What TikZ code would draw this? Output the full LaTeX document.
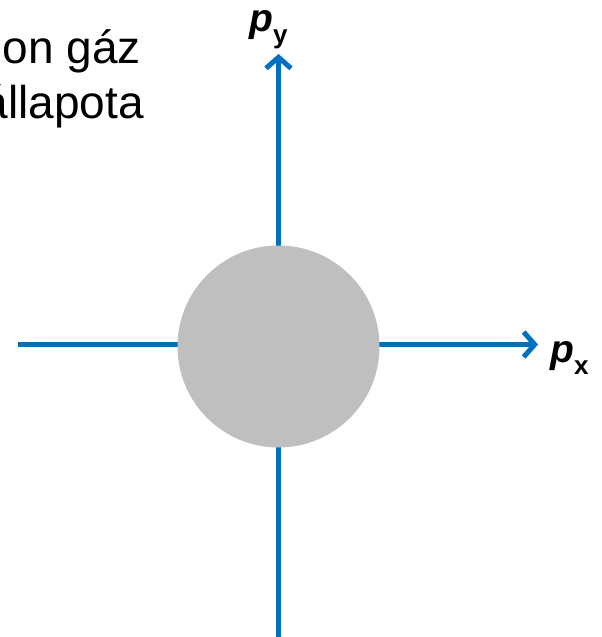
\documentclass[tikz,border=0pt]{standalone}
\usepackage{fontspec}
\setmainfont{Liberation Sans}
\usetikzlibrary{arrows.meta}
\definecolor{axisblue}{HTML}{0070C0}
\definecolor{ballgray}{HTML}{BFBFBF}
\tikzset{
  axis/.style={draw=axisblue, line width=5pt},
  axisarrow/.style={axis, -{Straight Barb[length=11pt,width=25pt,line width=5pt]}},
  ball/.style={circle, fill=ballgray, minimum size=202pt, inner sep=0pt},
  bigtext/.style={inner sep=0pt, font=\fontsize{46}{46}\selectfont},
  lbl/.style={inner sep=0pt, font=\fontsize{39}{39}\selectfont\bfseries\itshape},
}
\newcommand{\subx}[1]{{\upshape\fontsize{26}{26}\selectfont\raisebox{-12pt}{#1}}}
\begin{document}
\begin{tikzpicture}[x=1pt,y=-1pt]
\useasboundingbox (0,0) rectangle (602,637);
\clip (0,0) rectangle (602,637);
\coordinate (L) at (18,344.5);
\coordinate (R) at (538,344.5);
\coordinate (B) at (278.5,637);
\coordinate (T) at (278.5,54);
\draw[axisarrow] (L) -- (R);
\draw[axisarrow] (B) -- (T);
\node[ball] (c) at (278.5,346.5) {};
\node[bigtext, anchor=base east] (t1) at (141,63) {on gáz};
\node[bigtext, anchor=base east] (t2) at (144,118) {állapota};
\node[lbl, anchor=base west] (px) at (550,362) {p\subx{x}};
\node[lbl, anchor=base west] (py) at (249,31) {p\subx{y}};
\end{tikzpicture}
\end{document}
